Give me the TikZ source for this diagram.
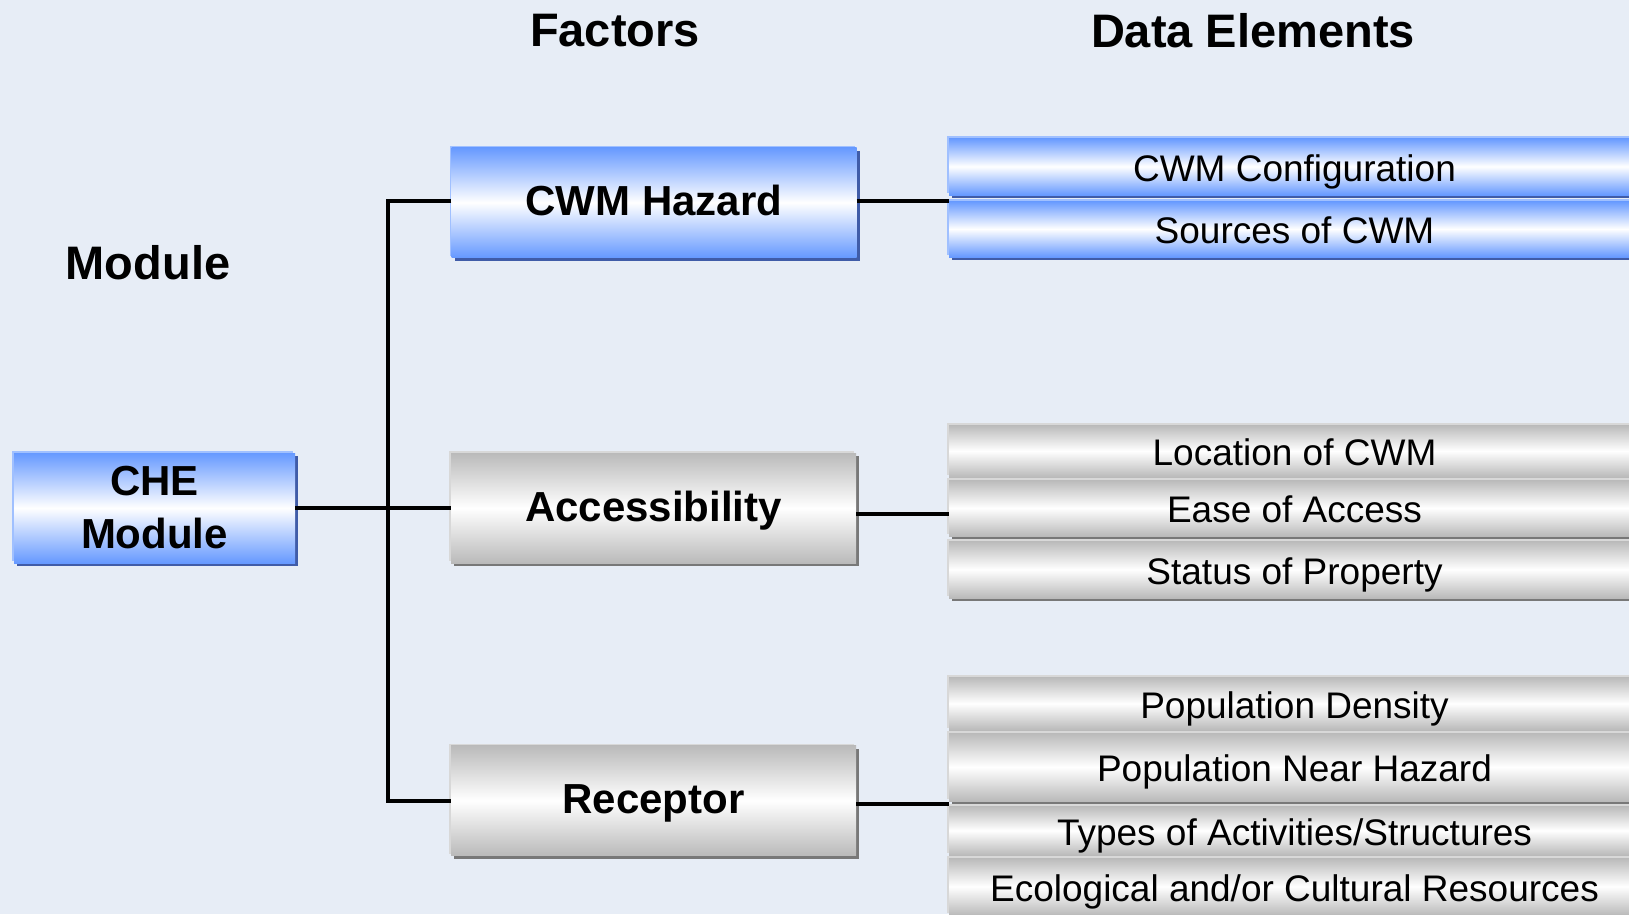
\documentclass[tikz,border=0pt]{standalone}
\usepackage{fontspec}
\setmainfont{Liberation Sans}
\usetikzlibrary{positioning, shadows}
\definecolor{pagebg}{RGB}{231,237,246}
\definecolor{boxblue}{RGB}{102,153,255}
\definecolor{blueedge}{RGB}{160,192,255}
\definecolor{blueshade}{RGB}{64,92,168}
\definecolor{boxgray}{RGB}{186,186,186}
\definecolor{grayedge}{RGB}{216,216,216}
\definecolor{grayshade}{RGB}{120,120,120}

\begin{document}
\begin{tikzpicture}[x=1pt, y=-1pt,
    base/.style={inner sep=0pt, align=center},
    bluebox/.style={base, top color=boxblue, bottom color=boxblue, middle color=white,
                    drop shadow={shadow xshift=3pt, shadow yshift=-3pt, fill=blueshade, opacity=1},
                    drop shadow={shadow xshift=-2pt, shadow yshift=2pt, fill=blueedge, opacity=1}},
    graybox/.style={base, top color=boxgray, bottom color=boxgray, middle color=white,
                    drop shadow={shadow xshift=3pt, shadow yshift=-3pt, fill=grayshade, opacity=1},
                    drop shadow={shadow xshift=-2pt, shadow yshift=2pt, fill=grayedge, opacity=1}},
    factor/.style={minimum width=405pt, minimum height=110pt, text height=26pt, text depth=0pt,
                   font=\bfseries\fontsize{42}{53}\selectfont},
    modbox/.style={minimum width=281pt, minimum height=110pt,
                   font=\bfseries\fontsize{42}{53}\selectfont},
    elem/.style={minimum width=691pt, text height=29pt, text depth=0pt,
                 font=\fontsize{37}{44}\selectfont},
    hdr/.style={font=\bfseries\fontsize{47}{52}\selectfont},
    link/.style={line width=4pt, black}
  ]
    \fill[pagebg] (0,0) rectangle (1629,914);
    \useasboundingbox (0,0) rectangle (1629,914);

    % column headings
    \node[hdr] (hfac) at (615,31) {Factors};
    \node[hdr] (hdata) at (1253,31) {Data Elements};
    \node[hdr] (hmod) at (148,263) {Module};

    % module and factors
    \node[bluebox, modbox] (che) at (154.5,508) {CHE\\Module};
    \node[bluebox, factor] (hazard) at (654,202.5) {CWM Hazard};
    \node[graybox, factor] (access) at (653.5,508) {Accessibility};
    \node[graybox, factor] (recep) at (653.5,800.5) {Receptor};

    % data elements
    \node[bluebox, elem, minimum height=57pt] (cfg) at (1294.5,166.5) {CWM Configuration};
    \node[bluebox, elem, minimum height=56pt] (src) at (1294.5,229) {Sources of CWM};

    \node[graybox, elem, minimum height=52pt] (loc) at (1294.5,451) {Location of CWM};
    \node[graybox, elem, minimum height=56pt] (ease) at (1294.5,508) {Ease of Access};
    \node[graybox, elem, minimum height=57pt] (status) at (1294.5,569.5) {Status of Property};

    \node[graybox, elem, minimum height=53pt] (dens) at (1294.5,703.5) {Population Density};
    \node[graybox, elem, minimum height=68pt] (near) at (1294.5,767) {Population Near Hazard};
    \node[graybox, elem, minimum height=49pt] (types) at (1294.5,830.5) {Types of Activities/Structures};
    \node[graybox, elem, minimum height=57pt] (eco) at (1294.5,886.5) {Ecological and/or Cultural Resources};

    % connectors
    \coordinate (trunk) at (388,508);
    \draw[link] (che.east) -- (access.west);
    \draw[link] ([yshift=1.5pt]hazard.west) -| (trunk) |- (recep.west);
    \draw[link] ([yshift=1.5pt]hazard.east) -- ([yshift=1.5pt]hazard.east -| cfg.west);
    \draw[link] ([yshift=-6pt]access.east) -- ([yshift=-6pt]access.east -| ease.west);
    \draw[link] ([yshift=-3.5pt]recep.east) -- ([yshift=-3.5pt]recep.east -| near.west);
\end{tikzpicture}
\end{document}
